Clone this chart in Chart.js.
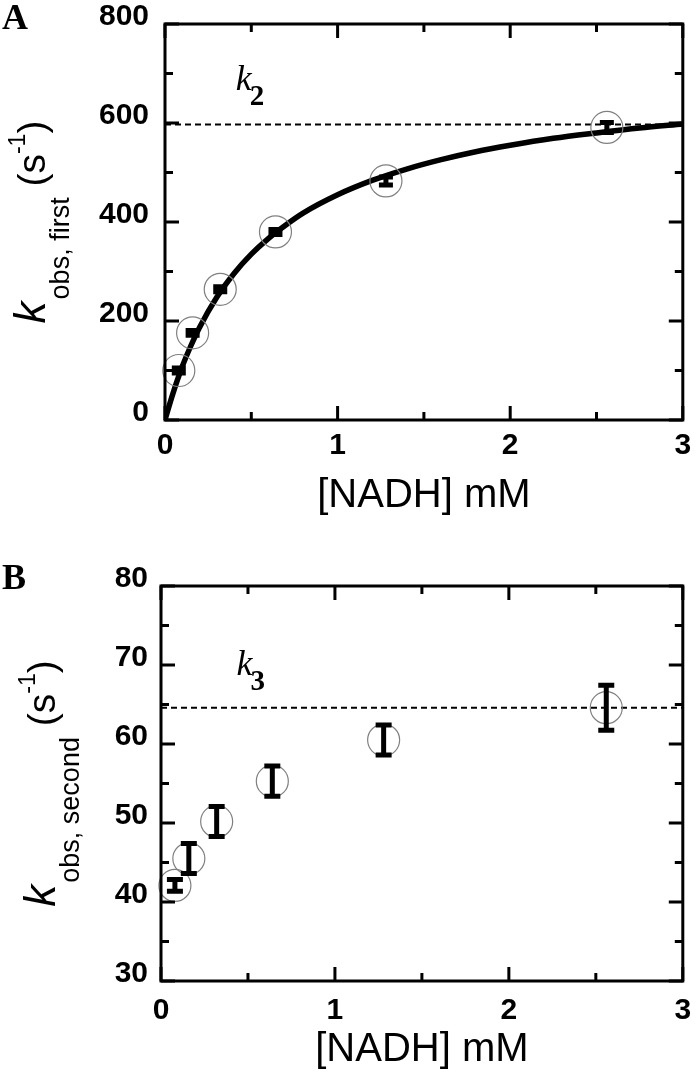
<!DOCTYPE html>
<html><head><meta charset="utf-8">
<script src="https://cdn.jsdelivr.net/npm/chart.js@4.4.0/dist/chart.umd.min.js"></script>
<style>
html,body{margin:0;padding:0;background:#fff;}
#wrap{position:relative;width:700px;height:1075px;overflow:hidden;background:#fff;}
.pane{position:absolute;left:0;width:700px;}
#pa{top:0;height:540px;}
#pb{top:540px;height:535px;}
canvas{display:block;}
</style></head><body>
<div id="wrap">
<div class="pane" id="pa"><canvas id="ca" width="700" height="540"></canvas></div>
<div class="pane" id="pb"><canvas id="cb" width="700" height="535"></canvas></div>
</div>
<script>
// ---- data ----
const nadh = [0.08, 0.16, 0.32, 0.64, 1.28, 2.56];          // [NADH] mM
const kFirst = [100, 176, 264, 380, 483, 591];               // k_obs,first (s^-1)
const kFirstErr = [5, 5, 5, 5, 8, 10];
const kSecond = [42.1, 45.5, 50.2, 55.3, 60.5, 64.6];        // k_obs,second (s^-1)
const kSecondErr = [0.75, 1.9, 1.9, 1.9, 1.9, 2.85];
const fitX = [0, 0.02, 0.05, 0.1, 0.15, 0.2, 0.3, 0.4, 0.5, 0.6, 0.7, 0.8, 1.0, 1.2, 1.4, 1.6, 1.8, 2.0, 2.25, 2.5, 2.75, 3.0];
const fitY = [0, 24, 58, 108, 150, 187, 248, 296, 335, 367, 394, 418, 455, 484, 507, 526, 542, 555, 569, 580, 590, 598];
const k2Level = 597;
const k3Level = 64.6;
const xTicks = [0, 1, 2, 3];
const yTicksA = [0, 200, 400, 600, 800];
const yTicksB = [30, 40, 50, 60, 70, 80];
const xLabel = '[NADH] mM';

const SANS = "'Liberation Sans', Arial, Helvetica, sans-serif";
const SERIF = "'Liberation Serif', 'Times New Roman', serif";

function decor(cfg) {
  return {
    id: 'decor' + cfg.name,
    afterDatasetsDraw(chart) {
      const ctx = chart.ctx, sx = chart.scales.x, sy = chart.scales.y;
      ctx.save();
      ctx.strokeStyle = '#000';
      ctx.lineCap = 'butt';
      cfg.xs.forEach((xv, i) => {
        const px = sx.getPixelForValue(xv);
        const top = sy.getPixelForValue(cfg.ys[i] + cfg.errs[i]);
        const bot = sy.getPixelForValue(cfg.ys[i] - cfg.errs[i]);
        ctx.lineWidth = cfg.stemW;
        ctx.beginPath(); ctx.moveTo(px, top); ctx.lineTo(px, bot); ctx.stroke();
        ctx.lineWidth = cfg.capT;
        ctx.beginPath();
        ctx.moveTo(px - cfg.capW / 2, top); ctx.lineTo(px + cfg.capW / 2, top);
        ctx.moveTo(px - cfg.capW / 2, bot); ctx.lineTo(px + cfg.capW / 2, bot);
        ctx.stroke();
      });
      ctx.restore();
    },
    afterDraw(chart) {
      const ctx = chart.ctx, a = chart.chartArea, sx = chart.scales.x, sy = chart.scales.y;
      ctx.save();
      ctx.strokeStyle = '#000';
      ctx.lineWidth = 3;
      ctx.strokeRect(a.left, a.top, a.right - a.left, a.bottom - a.top);
      // inward ticks
      const MAJ = 14, MIN = 8;
      for (let v = sx.min; v <= sx.max + 1e-9; v += cfg.xMinor) {
        const p = sx.getPixelForValue(v);
        const isMaj = Math.abs(v / cfg.xMajor - Math.round(v / cfg.xMajor)) < 1e-6;
        const L = isMaj ? MAJ : MIN;
        ctx.beginPath();
        ctx.moveTo(p, a.bottom); ctx.lineTo(p, a.bottom - L);
        ctx.moveTo(p, a.top); ctx.lineTo(p, a.top + L);
        ctx.stroke();
      }
      for (let v = sy.min; v <= sy.max + 1e-9; v += cfg.yMinor) {
        const p = sy.getPixelForValue(v);
        const isMaj = Math.abs(v / cfg.yMajor - Math.round(v / cfg.yMajor)) < 1e-6;
        const L = isMaj ? MAJ : MIN;
        ctx.beginPath();
        ctx.moveTo(a.left, p); ctx.lineTo(a.left + L, p);
        ctx.moveTo(a.right, p); ctx.lineTo(a.right - L, p);
        ctx.stroke();
      }
      // y-axis title (rotated, with sub/superscripts)
      const cy = (a.top + a.bottom) / 2;
      ctx.fillStyle = '#000';
      ctx.textBaseline = 'alphabetic';
      ctx.textAlign = 'left';
      let total = 0;
      cfg.yTitle.forEach(p => { ctx.font = p.font; p.w = ctx.measureText(p.t).width; total += p.w + (p.gap || 0); });
      ctx.translate(cfg.yTitleX, cy);
      ctx.rotate(-Math.PI / 2);
      let cx = -total / 2;
      cfg.yTitle.forEach(p => {
        ctx.font = p.font;
        ctx.fillText(p.t, cx, p.dy);
        cx += p.w + (p.gap || 0);
      });
      ctx.setTransform(1, 0, 0, 1, 0, 0);
      // rate-constant annotation
      const ax = sx.getPixelForValue(cfg.ann.x), ay = sy.getPixelForValue(cfg.ann.y);
      ctx.font = 'italic 36px ' + SERIF;
      ctx.fillText('k', ax, ay);
      const kw = ctx.measureText('k').width;
      ctx.font = 'bold 29px ' + SERIF;
      ctx.fillText(cfg.ann.sub, ax + kw - 2, ay + 15);
      // panel letter
      ctx.font = 'bold 36px ' + SERIF;
      ctx.fillText(cfg.letter, 2, cfg.letterY);
      ctx.restore();
    }
  };
}

function makeChart(id, o) {
  return new Chart(document.getElementById(id), {
    type: 'scatter',
    data: {
      datasets: o.datasets
    },
    options: {
      responsive: false,
      animation: false,
      events: [],
      layout: { padding: o.padding },
      plugins: { legend: { display: false }, tooltip: { enabled: false } },
      scales: {
        x: {
          type: 'linear', min: 0, max: 3,
          afterBuildTicks: s => { s.ticks = xTicks.map(v => ({ value: v })); },
          grid: { display: false, drawTicks: false },
          border: { display: false },
          ticks: { color: '#000', font: { family: SANS, size: 30, weight: 'bold' }, padding: o.xPad, maxRotation: 0, autoSkip: false },
          title: { display: true, text: xLabel, color: '#000', font: { family: SANS, size: 40 }, padding: { top: 0, bottom: o.titlePad } },
          afterFit: s => { s.height = o.xH; s.paddingLeft = 0; s.paddingRight = 0; }
        },
        y: {
          type: 'linear', min: o.yMin, max: o.yMax,
          afterBuildTicks: s => { s.ticks = o.yTicks.map(v => ({ value: v })); },
          grid: { display: false, drawTicks: false },
          border: { display: false },
          ticks: { color: '#000', font: { family: SANS, size: 30, weight: 'bold' }, padding: o.yPad, labelOffset: -7, autoSkip: false },
          afterFit: s => { s.width = o.yW; s.paddingTop = 0; s.paddingBottom = 0; }
        }
      }
    },
    plugins: [decor(o.decor)]
  });
}

function circles(xs, ys) {
  return {
    data: xs.map((x, i) => ({ x, y: ys[i] })),
    pointRadius: 16, pointBorderColor: '#808080', pointBorderWidth: 1.2,
    pointBackgroundColor: 'rgba(0,0,0,0)', showLine: false, clip: false
  };
}
function dashed(level) {
  return {
    data: [{ x: 0, y: level }, { x: 3, y: level }],
    showLine: true, borderColor: '#000', borderWidth: 2, borderDash: [6, 4],
    pointRadius: 0
  };
}

makeChart('ca', {
  padding: { left: 0, right: 8, top: 24, bottom: 0 },
  xPad: 8, xH: 120, titlePad: 20, yPad: 16, yW: 165,
  yMin: 0, yMax: 800, yTicks: yTicksA,
  datasets: [
    circles(nadh, kFirst),
    dashed(k2Level),
    {
      data: fitX.map((x, i) => ({ x, y: fitY[i] })),
      showLine: true, borderColor: '#000', borderWidth: 5.5, pointRadius: 0,
      cubicInterpolationMode: 'monotone'
    }
  ],
  decor: {
    name: 'A', xs: nadh, ys: kFirst, errs: kFirstErr, stemW: 5, capT: 5, capW: 14,
    xMinor: 0.5, xMajor: 1, yMinor: 100, yMajor: 200,
    yTitleX: 45,
    yTitle: [
      { t: 'k', font: 'italic 44px ' + SANS, dy: 0, gap: 2 },
      { t: 'obs, first', font: '27px ' + SANS, dy: 24 },
      { t: ' (s', font: '39px ' + SANS, dy: 0 },
      { t: '-1', font: '23px ' + SANS, dy: -20 },
      { t: ')', font: '39px ' + SANS, dy: 0 }
    ],
    ann: { x: 0.41, y: 667, sub: '2' },
    letter: 'A', letterY: 29
  }
});

makeChart('cb', {
  padding: { left: 0, right: 13, top: 46, bottom: 0 },
  xPad: 12, xH: 94, titlePad: 1, yPad: 13, yW: 161,
  yMin: 30, yMax: 80, yTicks: yTicksB,
  datasets: [
    circles(nadh, kSecond),
    dashed(k3Level)
  ],
  decor: {
    name: 'B', xs: nadh, ys: kSecond, errs: kSecondErr, stemW: 5, capT: 5, capW: 16,
    xMinor: 0.5, xMajor: 1, yMinor: 5, yMajor: 10,
    yTitleX: 55,
    yTitle: [
      { t: 'k', font: 'italic 44px ' + SANS, dy: 0, gap: 2 },
      { t: 'obs, second', font: '27px ' + SANS, dy: 24 },
      { t: ' (s', font: '39px ' + SANS, dy: 0 },
      { t: '-1', font: '23px ' + SANS, dy: -20 },
      { t: ')', font: '39px ' + SANS, dy: 0 }
    ],
    ann: { x: 0.434, y: 68.7, sub: '3' },
    letter: 'B', letterY: 49
  }
});
</script>
</body></html>
